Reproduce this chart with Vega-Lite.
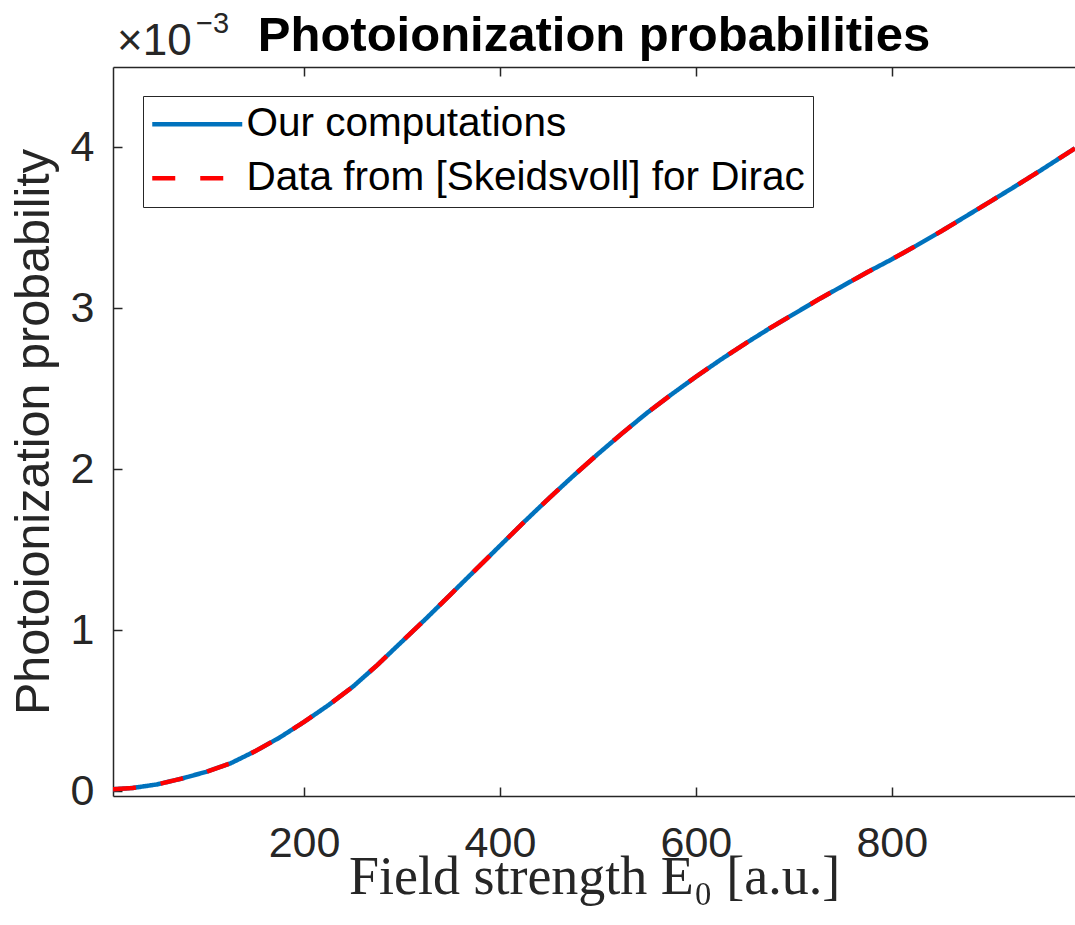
{
  "$schema": "https://vega.github.io/schema/vega-lite/v6.json",
  "autosize": {"type": "none"},
  "padding": {"left": 113, "top": 67, "right": 0, "bottom": 129},
  "width": 962,
  "height": 729,
  "background": "white",
  "title": {
    "text": "Photoionization probabilities",
    "font": "Liberation Sans",
    "fontSize": 49,
    "fontWeight": "bold",
    "color": "#000000",
    "anchor": "middle",
    "frame": "group",
    "offset": 19,
    "dy": 70
  },
  "datasets": {
    "curve": [
      {"E0": 5, "P": 0.000012, "series": "Our computations"},
      {"E0": 25, "P": 0.00002, "series": "Our computations"},
      {"E0": 50, "P": 0.000042, "series": "Our computations"},
      {"E0": 75, "P": 0.000078, "series": "Our computations"},
      {"E0": 100, "P": 0.00012, "series": "Our computations"},
      {"E0": 125, "P": 0.000173, "series": "Our computations"},
      {"E0": 150, "P": 0.000248, "series": "Our computations"},
      {"E0": 175, "P": 0.000333, "series": "Our computations"},
      {"E0": 200, "P": 0.00043, "series": "Our computations"},
      {"E0": 225, "P": 0.000535, "series": "Our computations"},
      {"E0": 250, "P": 0.00065, "series": "Our computations"},
      {"E0": 275, "P": 0.000785, "series": "Our computations"},
      {"E0": 300, "P": 0.00093, "series": "Our computations"},
      {"E0": 325, "P": 0.001075, "series": "Our computations"},
      {"E0": 350, "P": 0.001225, "series": "Our computations"},
      {"E0": 375, "P": 0.001375, "series": "Our computations"},
      {"E0": 400, "P": 0.001525, "series": "Our computations"},
      {"E0": 425, "P": 0.001675, "series": "Our computations"},
      {"E0": 450, "P": 0.00182, "series": "Our computations"},
      {"E0": 475, "P": 0.00196, "series": "Our computations"},
      {"E0": 500, "P": 0.002095, "series": "Our computations"},
      {"E0": 525, "P": 0.002225, "series": "Our computations"},
      {"E0": 550, "P": 0.00235, "series": "Our computations"},
      {"E0": 575, "P": 0.002465, "series": "Our computations"},
      {"E0": 600, "P": 0.002575, "series": "Our computations"},
      {"E0": 625, "P": 0.00268, "series": "Our computations"},
      {"E0": 650, "P": 0.00278, "series": "Our computations"},
      {"E0": 675, "P": 0.002875, "series": "Our computations"},
      {"E0": 700, "P": 0.002965, "series": "Our computations"},
      {"E0": 725, "P": 0.003055, "series": "Our computations"},
      {"E0": 750, "P": 0.00314, "series": "Our computations"},
      {"E0": 775, "P": 0.003225, "series": "Our computations"},
      {"E0": 800, "P": 0.003305, "series": "Our computations"},
      {"E0": 825, "P": 0.00339, "series": "Our computations"},
      {"E0": 850, "P": 0.003478, "series": "Our computations"},
      {"E0": 875, "P": 0.00357, "series": "Our computations"},
      {"E0": 900, "P": 0.003662, "series": "Our computations"},
      {"E0": 925, "P": 0.003755, "series": "Our computations"},
      {"E0": 950, "P": 0.00385, "series": "Our computations"},
      {"E0": 975, "P": 0.003948, "series": "Our computations"},
      {"E0": 987, "P": 0.003995, "series": "Our computations"},
      {"E0": 5, "P": 0.000012, "series": "Data from [Skeidsvoll] for Dirac"},
      {"E0": 25, "P": 0.00002, "series": "Data from [Skeidsvoll] for Dirac"},
      {"E0": 50, "P": 0.000042, "series": "Data from [Skeidsvoll] for Dirac"},
      {"E0": 75, "P": 0.000078, "series": "Data from [Skeidsvoll] for Dirac"},
      {"E0": 100, "P": 0.00012, "series": "Data from [Skeidsvoll] for Dirac"},
      {"E0": 125, "P": 0.000173, "series": "Data from [Skeidsvoll] for Dirac"},
      {"E0": 150, "P": 0.000248, "series": "Data from [Skeidsvoll] for Dirac"},
      {"E0": 175, "P": 0.000333, "series": "Data from [Skeidsvoll] for Dirac"},
      {"E0": 200, "P": 0.00043, "series": "Data from [Skeidsvoll] for Dirac"},
      {"E0": 225, "P": 0.000535, "series": "Data from [Skeidsvoll] for Dirac"},
      {"E0": 250, "P": 0.00065, "series": "Data from [Skeidsvoll] for Dirac"},
      {"E0": 275, "P": 0.000785, "series": "Data from [Skeidsvoll] for Dirac"},
      {"E0": 300, "P": 0.00093, "series": "Data from [Skeidsvoll] for Dirac"},
      {"E0": 325, "P": 0.001075, "series": "Data from [Skeidsvoll] for Dirac"},
      {"E0": 350, "P": 0.001225, "series": "Data from [Skeidsvoll] for Dirac"},
      {"E0": 375, "P": 0.001375, "series": "Data from [Skeidsvoll] for Dirac"},
      {"E0": 400, "P": 0.001525, "series": "Data from [Skeidsvoll] for Dirac"},
      {"E0": 425, "P": 0.001675, "series": "Data from [Skeidsvoll] for Dirac"},
      {"E0": 450, "P": 0.00182, "series": "Data from [Skeidsvoll] for Dirac"},
      {"E0": 475, "P": 0.00196, "series": "Data from [Skeidsvoll] for Dirac"},
      {"E0": 500, "P": 0.002095, "series": "Data from [Skeidsvoll] for Dirac"},
      {"E0": 525, "P": 0.002225, "series": "Data from [Skeidsvoll] for Dirac"},
      {"E0": 550, "P": 0.00235, "series": "Data from [Skeidsvoll] for Dirac"},
      {"E0": 575, "P": 0.002465, "series": "Data from [Skeidsvoll] for Dirac"},
      {"E0": 600, "P": 0.002575, "series": "Data from [Skeidsvoll] for Dirac"},
      {"E0": 625, "P": 0.00268, "series": "Data from [Skeidsvoll] for Dirac"},
      {"E0": 650, "P": 0.00278, "series": "Data from [Skeidsvoll] for Dirac"},
      {"E0": 675, "P": 0.002875, "series": "Data from [Skeidsvoll] for Dirac"},
      {"E0": 700, "P": 0.002965, "series": "Data from [Skeidsvoll] for Dirac"},
      {"E0": 725, "P": 0.003055, "series": "Data from [Skeidsvoll] for Dirac"},
      {"E0": 750, "P": 0.00314, "series": "Data from [Skeidsvoll] for Dirac"},
      {"E0": 775, "P": 0.003225, "series": "Data from [Skeidsvoll] for Dirac"},
      {"E0": 800, "P": 0.003305, "series": "Data from [Skeidsvoll] for Dirac"},
      {"E0": 825, "P": 0.00339, "series": "Data from [Skeidsvoll] for Dirac"},
      {"E0": 850, "P": 0.003478, "series": "Data from [Skeidsvoll] for Dirac"},
      {"E0": 875, "P": 0.00357, "series": "Data from [Skeidsvoll] for Dirac"},
      {"E0": 900, "P": 0.003662, "series": "Data from [Skeidsvoll] for Dirac"},
      {"E0": 925, "P": 0.003755, "series": "Data from [Skeidsvoll] for Dirac"},
      {"E0": 950, "P": 0.00385, "series": "Data from [Skeidsvoll] for Dirac"},
      {"E0": 975, "P": 0.003948, "series": "Data from [Skeidsvoll] for Dirac"},
      {"E0": 987, "P": 0.003995, "series": "Data from [Skeidsvoll] for Dirac"}
    ],
    "exponent": [{"base": "×10", "exp": "−3"}]
  },
  "layer": [
    {
      "data": {"name": "curve"},
      "mark": {"type": "line", "strokeWidth": 4.5, "strokeCap": "butt", "clip": true},
      "encoding": {
        "x": {
          "field": "E0", "type": "quantitative",
          "scale": {"domain": [5, 987], "nice": false, "zero": false},
          "axis": {
            "orient": "bottom",
            "title": "Field strength E₀ [a.u.]",
            "values": [200, 400, 600, 800],
            "grid": false,
            "tickSize": -9,
            "labelPadding": 35,
            "titleFont": "Liberation Serif",
            "titleFontSize": 54,
            "titleFontWeight": "normal",
            "titleColor": "#262626",
            "titleBaseline": "alphabetic",
            "titleY": 97
          }
        },
        "y": {
          "field": "P", "type": "quantitative",
          "scale": {"domain": [-0.00003, 0.0045], "nice": false, "zero": false},
          "axis": {
            "orient": "left",
            "title": "Photoionization probability",
            "values": [0, 0.001, 0.002, 0.003, 0.004],
            "labelExpr": "format(datum.value * 1000, 'd')",
            "grid": false,
            "tickSize": -9,
            "labelPadding": 28,
            "titleFont": "Liberation Sans",
            "titleFontSize": 48.5,
            "titleFontWeight": "normal",
            "titleColor": "#262626",
            "titleBaseline": "alphabetic",
            "titleX": -65,
            "titleY": 364.5
          }
        },
        "color": {
          "field": "series", "type": "nominal",
          "scale": {"domain": ["Our computations", "Data from [Skeidsvoll] for Dirac"], "range": ["#0072BD", "#FF0000"]},
          "legend": {
            "title": null, "orient": "none", "legendX": 30, "legendY": 29,
            "symbolType": "M-1.9,0H7.1", "symbolSize": 400, "symbolStrokeWidth": 4.5,
            "labelOffset": 55, "padding": 8, "rowPadding": 13
          }
        },
        "strokeDash": {
          "field": "series", "type": "nominal",
          "scale": {"domain": ["Our computations", "Data from [Skeidsvoll] for Dirac"], "range": [[1, 0], [23, 25]]},
          "legend": {
            "title": null, "orient": "none", "legendX": 30, "legendY": 29,
            "symbolType": "M-1.9,0H7.1", "symbolSize": 400, "symbolStrokeWidth": 4.5,
            "labelOffset": 55, "padding": 8, "rowPadding": 13
          }
        }
      }
    },
    {
      "data": {"name": "exponent"},
      "mark": {"type": "text", "font": "Liberation Sans", "fontSize": 44, "color": "#262626", "align": "left", "baseline": "alphabetic", "dx": 4, "dy": -12},
      "encoding": {
        "x": {"datum": 5, "type": "quantitative", "axis": {"orient": "top", "labels": false, "title": null, "values": [200, 400, 600, 800], "tickSize": -9, "grid": false}},
        "y": {"datum": 0.0045, "type": "quantitative", "axis": null},
        "text": {"field": "base"}
      }
    },
    {
      "data": {"name": "exponent"},
      "mark": {"type": "text", "font": "Liberation Sans", "fontSize": 29, "color": "#262626", "align": "left", "baseline": "alphabetic", "dx": 83, "dy": -34},
      "encoding": {
        "x": {"datum": 5, "type": "quantitative", "axis": null},
        "y": {"datum": 0.0045, "type": "quantitative", "axis": null},
        "text": {"field": "exp"}
      }
    }
  ],
  "resolve": {"axis": {"x": "independent", "y": "independent"}},
  "config": {
    "view": {"stroke": null},
    "axis": {
      "domainColor": "#262626",
      "domainWidth": 1.5,
      "tickColor": "#262626",
      "tickWidth": 1.5,
      "labelFont": "Liberation Sans",
      "labelFontSize": 43,
      "labelColor": "#262626"
    },
    "legend": {
      "labelFont": "Liberation Sans",
      "labelFontSize": 40.5,
      "labelColor": "#000000",
      "strokeColor": "#262626",
      "fillColor": "#ffffff",
      "labelLimit": 0
    }
  }
}
